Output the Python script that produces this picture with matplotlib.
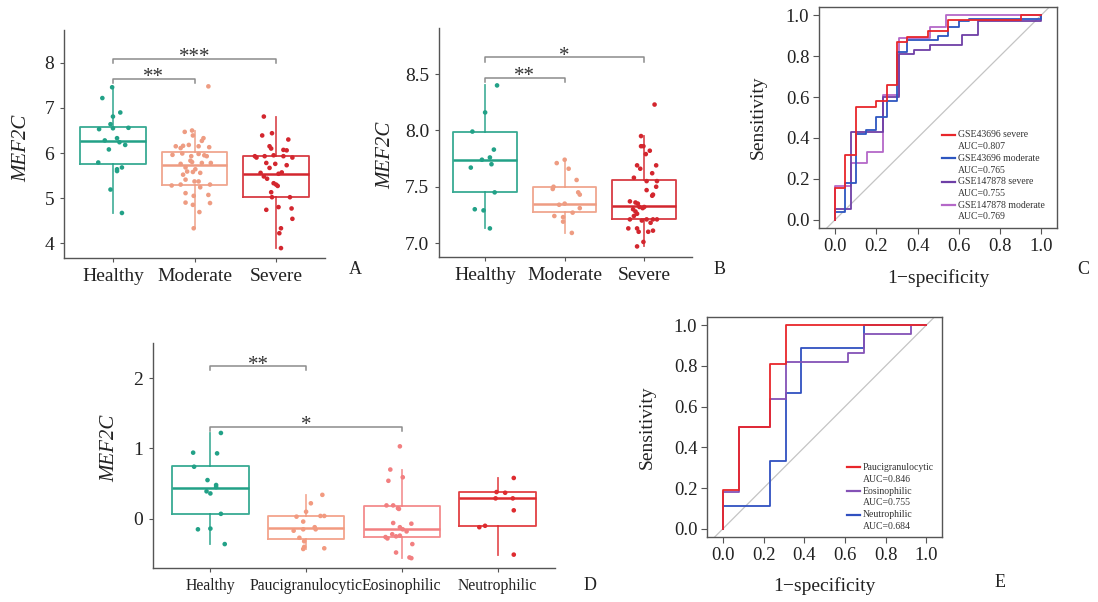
import matplotlib
matplotlib.use("Agg")
import matplotlib.pyplot as plt

plt.rcParams['font.family'] = ['Liberation Serif', 'DejaVu Serif']

# ---------------- panel A: GSE43696 ----------------
a_groups = ["Healthy", "Moderate", "Severe"]
a_healthy = [7.22, 7.46, 6.90, 6.81, 6.64, 6.53, 6.55, 6.56, 6.28, 6.33, 6.24,
             6.18, 6.08, 5.79, 5.64, 5.68, 5.60, 5.19, 4.67]
a_healthy_dx = [-0.13, -0.01, 0.09, 0.0, -0.03, -0.17, 0.0, 0.19, -0.10, 0.05, 0.08,
                0.15, -0.05, -0.18, 0.05, 0.11, 0.05, -0.03, 0.11]
a_moderate = [6.47, 6.50, 6.39, 6.33, 6.27, 7.48, 6.15, 6.16, 6.18, 6.11, 6.15,
              6.13, 5.96, 5.99, 5.93, 5.98, 5.95, 5.93, 5.83, 5.80, 5.76, 5.78,
              5.78, 5.68, 5.64, 5.59, 5.52, 5.58, 5.56, 5.41, 5.37, 5.37, 5.28,
              5.30, 5.24, 5.30, 5.11, 5.05, 5.07, 4.89, 4.90, 4.85, 4.69, 4.33]
a_moderate_dx = [-0.12, -0.03, -0.02, 0.11, 0.09, 0.17, -0.23, -0.14, -0.07, -0.17, 0.05,
                 0.18, -0.27, -0.15, -0.04, 0.05, 0.12, 0.15, -0.05, -0.03, -0.17, 0.09,
                 0.20, -0.11, 0.01, -0.09, -0.14, -0.02, 0.07, -0.11, 0.0, 0.05, -0.28,
                 -0.17, 0.07, 0.19, -0.11, -0.01, 0.17, 0.19, -0.11, -0.02, 0.06, -0.01]
a_severe = [6.81, 6.39, 6.44, 6.30, 6.15, 6.10, 6.07, 6.06, 5.93, 5.93, 5.95,
            5.93, 5.90, 5.90, 5.78, 5.76, 5.73, 5.67, 5.56, 5.54, 5.57, 5.48,
            5.43, 5.33, 5.27, 5.30, 5.13, 5.02, 5.02, 4.74, 4.80, 4.77, 4.54,
            4.33, 4.22, 3.89]
a_severe_dx = [-0.15, -0.17, -0.05, 0.15, -0.08, -0.06, 0.09, 0.13, -0.26, -0.14, -0.03,
               0.09, 0.20, -0.24, -0.12, -0.01, 0.13, -0.08, -0.19, 0.03, 0.07, -0.15,
               -0.11, -0.03, 0.02, 0.0, -0.06, -0.05, 0.17, -0.12, 0.03, 0.19, 0.20,
               0.06, 0.04, 0.06]
a_q1 = [5.76, 5.30, 5.02]
a_med = [6.26, 5.73, 5.54]
a_q3 = [6.58, 6.02, 5.93]
a_lo = [4.67, 4.33, 3.89]
a_hi = [7.46, 6.50, 6.81]
a_sig = [(0, 1, 7.65, "**"), (0, 2, 8.09, "***")]

# ---------------- panel B: GSE147878 ----------------
b_groups = ["Healthy", "Moderate", "Severe"]
b_healthy = [8.40, 8.16, 7.99, 7.83, 7.76, 7.74, 7.70, 7.67, 7.45, 7.30, 7.29, 7.13]
b_healthy_dx = [0.15, 0.0, -0.16, 0.11, 0.06, -0.04, 0.08, -0.18, 0.12, -0.13, -0.02, 0.06]
b_moderate = [7.74, 7.71, 7.66, 7.56, 7.50, 7.48, 7.45, 7.43, 7.35, 7.34, 7.31,
              7.27, 7.24, 7.23, 7.19, 7.09]
b_moderate_dx = [0.0, -0.10, 0.05, 0.15, -0.14, -0.15, 0.17, 0.19, 0.0, -0.07, 0.19,
                 0.10, -0.13, -0.02, -0.02, 0.09]
b_severe = [8.23, 7.95, 7.86, 7.86, 7.82, 7.79, 7.69, 7.66, 7.69, 7.62, 7.58,
            7.55, 7.55, 7.50, 7.47, 7.42, 7.43, 7.37, 7.36, 7.35, 7.32, 7.30,
            7.28, 7.31, 7.32, 7.26, 7.24, 7.21, 7.21, 7.21, 7.20, 7.21, 7.18,
            7.13, 7.13, 7.11, 7.10, 7.10, 7.01, 6.97]
b_severe_dx = [0.13, -0.04, -0.04, -0.01, 0.07, 0.02, -0.09, -0.05, 0.15, 0.10, -0.13,
               0.03, 0.16, 0.15, 0.03, 0.10, 0.11, -0.18, -0.11, -0.08, -0.06, -0.14,
               -0.11, -0.02, 0.0, -0.09, -0.13, 0.03, 0.11, 0.16, -0.03, -0.18, 0.08,
               -0.09, -0.20, 0.11, 0.05, -0.07, -0.01, -0.09]
b_q1 = [7.45, 7.275, 7.21]
b_med = [7.74, 7.35, 7.33]
b_q3 = [7.99, 7.50, 7.56]
b_lo = [7.13, 7.09, 6.97]
b_hi = [8.40, 7.74, 7.95]
b_sig = [(0, 1, 8.47, "**"), (0, 2, 8.648, "*")]

# ---------------- panel D: phenotypes ----------------
d_groups = ["Healthy", "Paucigranulocytic", "Eosinophilic", "Neutrophilic"]
d_healthy = [1.22, 0.94, 0.93, 0.74, 0.55, 0.48, 0.45, 0.39, 0.36, 0.07, -0.15, -0.14, -0.36]
d_healthy_dx = [0.11, -0.18, 0.07, -0.17, -0.03, 0.06, 0.06, -0.04, 0.0, 0.11, -0.13, 0.0, 0.15]
d_pauci = [0.34, 0.22, 0.10, 0.03, 0.04, 0.04, -0.04, -0.17, -0.15, -0.12, -0.15,
           -0.27, -0.32, -0.40, -0.43, -0.42]
d_pauci_dx = [0.17, 0.05, 0.0, -0.10, 0.15, 0.19, -0.03, -0.13, -0.03, 0.09, 0.10,
              -0.07, -0.02, -0.02, -0.03, 0.19]
d_eos = [1.03, 0.70, 0.59, 0.54, 0.19, 0.19, 0.15, 0.14, -0.06, -0.07, -0.12,
         -0.15, -0.18, -0.22, -0.25, -0.24, -0.26, -0.28, -0.36, -0.48, -0.55, -0.56]
d_eos_dx = [-0.02, -0.12, 0.01, -0.14, -0.16, -0.09, -0.04, -0.03, -0.09, 0.10, -0.02,
            0.01, 0.05, -0.10, -0.06, -0.02, -0.17, -0.15, 0.11, -0.06, 0.08, 0.10]
d_neut = [0.58, 0.38, 0.37, 0.29, 0.29, 0.12, -0.12, -0.10, -0.51]
d_neut_dx = [0.17, -0.01, 0.08, -0.02, 0.16, 0.17, -0.19, -0.13, 0.17]
d_q1 = [0.071, -0.29, -0.26, -0.10]
d_med = [0.44, -0.13, -0.14, 0.29]
d_q3 = [0.744, 0.033, 0.175, 0.375]
d_lo = [-0.36, -0.43, -0.56, -0.51]
d_hi = [1.22, 0.34, 0.70, 0.58]
d_sig = [(0, 1, 2.166, "**"), (0, 2, 1.308, "*")]

# ---------------- panel C: ROC, asthma severity ----------------
c_names = ["GSE43696 severe", "GSE43696 moderate", "GSE147878 severe", "GSE147878 moderate"]
c_auc = [0.807, 0.765, 0.755, 0.769]
c_fpr = [
    [0, 0, 0.05, 0.10, 0.20, 0.25, 0.30, 0.35, 0.45, 0.55, 0.90, 1.0],
    [0, 0, 0.05, 0.10, 0.15, 0.20, 0.25, 0.30, 0.35, 0.50, 0.55, 0.60, 0.65, 1.0, 1.0],
    [0, 0, 0.077, 0.231, 0.308, 0.385, 0.462, 0.615, 0.692, 1.0, 1.0],
    [0, 0, 0.077, 0.154, 0.231, 0.308, 0.462, 0.538, 1.0],
]
c_tpr = [
    [0, 0.155, 0.315, 0.55, 0.58, 0.66, 0.87, 0.895, 0.925, 0.975, 1.0, 1.0],
    [0, 0.04, 0.18, 0.42, 0.44, 0.50, 0.58, 0.82, 0.88, 0.90, 0.94, 0.97, 0.98, 0.98, 1.0],
    [0, 0.055, 0.43, 0.60, 0.81, 0.83, 0.855, 0.905, 0.97, 0.97, 1.0],
    [0, 0.165, 0.276, 0.333, 0.61, 0.886, 0.943, 1.0, 1.0],
]

# ---------------- panel E: ROC, phenotypes ----------------
e_names = ["Paucigranulocytic", "Eosinophilic", "Neutrophilic"]
e_auc = [0.846, 0.755, 0.684]
e_fpr = [
    [0, 0, 0.077, 0.231, 0.308, 1.0],
    [0, 0, 0.077, 0.231, 0.308, 0.615, 0.692, 0.923, 1.0],
    [0, 0, 0.231, 0.308, 0.385, 0.692, 1.0],
]
e_tpr = [
    [0, 0.19, 0.50, 0.81, 1.0, 1.0],
    [0, 0.18, 0.50, 0.636, 0.818, 0.864, 0.955, 1.0, 1.0],
    [0, 0.111, 0.333, 0.667, 0.889, 1.0, 1.0],
]

TEAL = "#22A187"
SALMON = "#EE9C82"
RED = "#D3262E"
SPINE = "#555555"


def box_panel(ax, groups, values, offsets, q1, med, q3, lo, hi, colors, sig,
              xlabelsize=14):
    stats = []
    for i in range(len(groups)):
        stats.append(dict(q1=q1[i], med=med[i], q3=q3[i], whislo=lo[i],
                          whishi=hi[i], fliers=[]))
    parts = ax.bxp(stats, positions=range(len(groups)), widths=0.8,
                   showfliers=False, showcaps=False, patch_artist=False)
    for i, c in enumerate(colors):
        parts['boxes'][i].set(color=c, linewidth=1.3, alpha=0.9)
        parts['medians'][i].set(color=c, linewidth=1.8)
        for w in parts['whiskers'][2 * i:2 * i + 2]:
            w.set(color=c, linewidth=1.3, alpha=0.8)
    for i, (v, dx) in enumerate(zip(values, offsets)):
        ax.scatter([i + d for d in dx], v, s=11, color=colors[i],
                   edgecolors='none', zorder=3)
    for g1, g2, y, txt in sig:
        h = (ax.get_ylim()[1] - ax.get_ylim()[0]) * 0.018
        ax.plot([g1, g1, g2, g2], [y - h, y, y, y - h], color="#8c8c8c", lw=1.1)
        ax.annotate(txt, xy=((g1 + g2) / 2, y), xytext=(0, -2.5),
                    textcoords='offset points', ha='center', va='baseline',
                    fontsize=15, color="#333333")
    ax.set_xticks(range(len(groups)))
    ax.set_xticklabels(groups)
    for s in ['top', 'right']:
        ax.spines[s].set_visible(False)
    for s in ['left', 'bottom']:
        ax.spines[s].set_color(SPINE)
        ax.spines[s].set_linewidth(1.0)
    ax.tick_params(axis='x', length=3, color=SPINE, labelsize=xlabelsize, pad=4,
                   labelcolor="#222222")
    ax.tick_params(axis='y', length=3, color=SPINE, labelsize=14, pad=4,
                   labelcolor="#222222")


def roc_panel(ax, fprs, tprs, colors, names, aucs, order, leg_x, leg_y, leg_dy):
    ax.axline((0, 0), (1, 1), color="#c4c4c4", lw=0.9, zorder=1)
    for k in order:
        ax.plot(fprs[k], tprs[k], drawstyle='steps-post', color=colors[k],
                lw=1.3, zorder=2)
    ax.set_xlim(-0.078, 1.077)
    ax.set_ylim(-0.04, 1.04)
    ticks = [0.0, 0.2, 0.4, 0.6, 0.8, 1.0]
    ax.set_xticks(ticks)
    ax.set_yticks(ticks)
    ax.set_xticklabels(["%.1f" % t for t in ticks])
    ax.set_yticklabels(["%.1f" % t for t in ticks])
    for s in ax.spines.values():
        s.set_color(SPINE)
        s.set_linewidth(1.0)
    ax.tick_params(length=4, color=SPINE, labelsize=13.5, pad=3, labelcolor="#222222")
    ax.text(0.5, -0.225, "1\u2212specificity", transform=ax.transAxes,
            ha='center', va='center', fontsize=14, color="#222222")
    ax.text(-0.255, 0.5, "Sensitivity", transform=ax.transAxes, rotation=90,
            ha='center', va='center', fontsize=14, color="#222222")
    for i, (c, n, a) in enumerate(zip(colors, names, aucs)):
        y = leg_y - 2 * i * leg_dy
        ax.plot([leg_x, leg_x + 0.055], [y, y], transform=ax.transAxes,
                color=c, lw=1.6)
        ax.text(leg_x + 0.068, y, n, transform=ax.transAxes, va='center',
                fontsize=7, color="#333333")
        ax.text(leg_x + 0.068, y - leg_dy, "AUC=%.3f" % a, transform=ax.transAxes,
                va='center', fontsize=7, color="#333333")


fig = plt.figure(figsize=(10.98, 6.02), dpi=100)

# A
axA = fig.add_axes([0.0583, 0.5714, 0.2377, 0.3787])
axA.set_xlim(-0.6, 2.6)
axA.set_ylim(3.67, 8.73)
box_panel(axA, a_groups, [a_healthy, a_moderate, a_severe],
          [a_healthy_dx, a_moderate_dx, a_severe_dx],
          a_q1, a_med, a_q3, a_lo, a_hi, [TEAL, SALMON, RED], a_sig)
axA.set_yticks([4, 5, 6, 7, 8])
axA.text(-0.161, 0.482, "MEF2C", transform=axA.transAxes, rotation=90,
         ha='center', va='center', fontsize=15, style='italic', color="#222222")

# B
axB = fig.add_axes([0.3998, 0.5731, 0.2304, 0.3804])
axB.set_xlim(-0.58, 2.6)
axB.set_ylim(6.876, 8.91)
box_panel(axB, b_groups, [b_healthy, b_moderate, b_severe],
          [b_healthy_dx, b_moderate_dx, b_severe_dx],
          b_q1, b_med, b_q3, b_lo, b_hi, [TEAL, SALMON, RED], b_sig)
axB.set_yticks([7.0, 7.5, 8.0, 8.5])
axB.set_yticklabels(["7.0", "7.5", "8.0", "8.5"])
axB.text(-0.209, 0.445, "MEF2C", transform=axB.transAxes, rotation=90,
         ha='center', va='center', fontsize=15, style='italic', color="#222222")

# C
axC = fig.add_axes([0.7459, 0.6213, 0.2168, 0.3671])
roc_panel(axC, c_fpr, c_tpr, ["#E8262B", "#2D56C0", "#6E3FA6", "#B468C8"],
          c_names, c_auc, [3, 2, 1, 0], 0.517, 0.421, 0.053)

# D
axD = fig.add_axes([0.1393, 0.0565, 0.3661, 0.3738])
axD.set_xlim(-0.6, 3.6)
axD.set_ylim(-0.70, 2.5)
box_panel(axD, d_groups, [d_healthy, d_pauci, d_eos, d_neut],
          [d_healthy_dx, d_pauci_dx, d_eos_dx, d_neut_dx],
          d_q1, d_med, d_q3, d_lo, d_hi, [TEAL, "#F29A80", "#F27F80", "#DE2B2F"],
          d_sig, xlabelsize=11.3)
axD.set_yticks([0, 1, 2])
axD.text(-0.107, 0.533, "MEF2C", transform=axD.transAxes, rotation=90,
         ha='center', va='center', fontsize=15, style='italic', color="#222222")

# E
axE = fig.add_axes([0.6439, 0.1080, 0.2140, 0.3654])
roc_panel(axE, e_fpr, e_tpr, ["#E8262B", "#8452B6", "#3050C0"],
          e_names, e_auc, [2, 1, 0], 0.596, 0.318, 0.0545)

# panel letters
for lbl, x, y in [("A", 0.3233, 0.5515), ("B", 0.6557, 0.5515), ("C", 0.9863, 0.5515),
                  ("D", 0.5373, 0.0282), ("E", 0.9107, 0.0316)]:
    fig.text(x, y, lbl, ha='center', va='center', fontsize=13, color="#222222")

fig.savefig("out.png", dpi=100)
